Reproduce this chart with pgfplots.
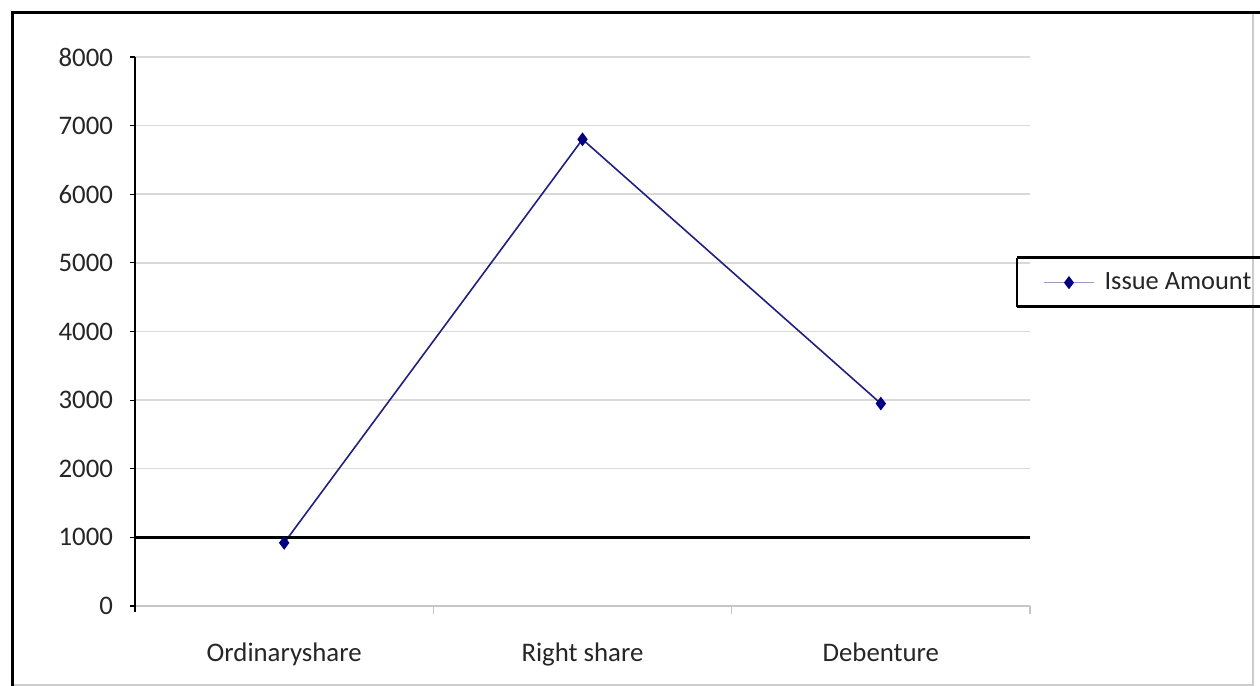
\documentclass[border=0pt]{standalone}
\usepackage{pgfplots}
\pgfplotsset{compat=1.18}
\usepackage{fontspec}
\setmainfont{Carlito}
\definecolor{seriesblue}{RGB}{32,32,128}
\definecolor{markblue}{RGB}{0,0,128}
\definecolor{gridgray}{RGB}{217,217,217}
\definecolor{textgray}{RGB}{38,38,38}

\begin{document}
\begin{tikzpicture}
% page: 630pt x 343pt
\clip (0,0) rectangle (630pt,343pt);
\fill[white] (0,0) rectangle (630pt,343pt);
% outer chart frame
\draw[gray!40, line width=0.8pt] (6pt,0.5pt) -- (626.5pt,0.5pt) -- (626.5pt,336.5pt);
\draw[black, line width=1.5pt] (6pt,0pt) -- (6pt,336.5pt) -- (630pt,336.5pt);

\begin{axis}[
  at={(67.5pt,40pt)}, anchor=south west,
  scale only axis,
  width=447.5pt, height=274.5pt,
  xmin=-0.5, xmax=2.5,
  ymin=0, ymax=8000,
  axis lines=left,
  x axis line style={draw=gray!45, line width=0.8pt, -},
  y axis line style={draw=black, line width=1pt, -},
  xtick={0,1,2},
  xticklabels={Ordinaryshare, Right share, Debenture},
  xtick style={draw=none},
  ytick={0,1000,...,8000},
  ytick style={draw=black, line width=0.6pt},
  tick align=outside,
  major tick length=2.5pt,
  ymajorgrids,
  major grid style={draw=gridgray, line width=0.75pt},
  tick label style={font=\fontsize{13.4}{16}\selectfont, text=textgray},
  xticklabel style={yshift=-12.5pt},
  yticklabel style={xshift=-5pt},
  /pgf/number format/assume math mode=true,
  /pgf/number format/1000 sep={},
  legend style={
    at={(1.0145,0.589)}, anchor=west,
    draw=none, fill=none,
    inner xsep=0pt, inner ysep=0pt,
    font=\fontsize{13.2}{16}\selectfont, text=textgray,
    nodes={inner sep=0pt},
    /tikz/every odd column/.append style={column sep=5pt},
  },
  legend cell align=left,
  legend image code/.code={
    \draw[#1, draw=seriesblue!45, line width=0.6pt, mark repeat=2, mark phase=2]
      plot coordinates {(0pt,0pt) (12.5pt,0pt) (25pt,0pt)};
  },
  clip=false,
]
% issue amount per category
\addplot[
  seriesblue, line width=0.8pt,
  mark=diamond*, mark size=2.8pt,
  mark options={fill=markblue, draw=markblue, solid},
] coordinates {(0,920) (1,6800) (2,2950)};
\addlegendentry{Issue Amount}

% heavy rule at the 1000 level
\draw[black, line width=1.5pt] (axis cs:-0.5,1000) -- (axis cs:2.5,1000);
% value axis runs a little below zero
\draw[black, line width=1pt] (axis cs:-0.5,0) -- ++(0pt,-3pt);
% small separators between categories
\draw[gray!45, line width=0.8pt] (axis cs:0.5,0) -- ++(0pt,-4pt);
\draw[gray!45, line width=0.8pt] (axis cs:1.5,0) -- ++(0pt,-4pt);
\draw[gray!45, line width=0.8pt] (axis cs:2.5,0) -- ++(0pt,-4pt);
\end{axis}

% legend box rules
\draw[black, line width=1.5pt] (508.5pt,214pt) -- (630pt,214pt);
\draw[black, line width=1.5pt] (508.5pt,189.5pt) -- (630pt,189.5pt);
\draw[black, line width=0.7pt] (508.5pt,189.5pt) -- (508.5pt,214pt);
\end{tikzpicture}
\end{document}
